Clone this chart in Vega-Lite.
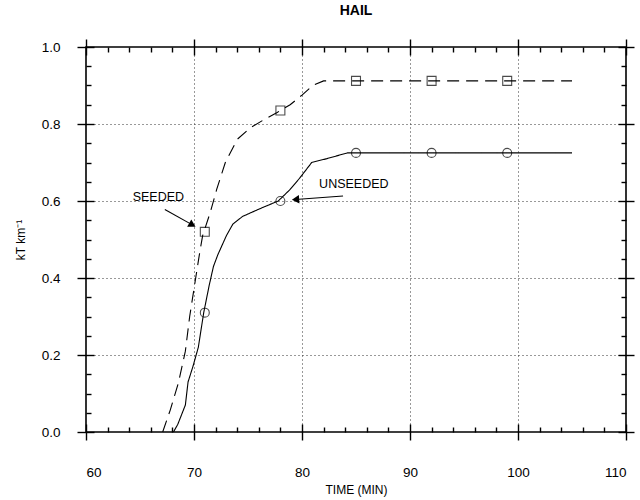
{
  "$schema": "https://vega.github.io/schema/vega-lite/v6.json",
  "autosize": "none",
  "width": 540,
  "height": 385,
  "padding": {"left": 86, "top": 47, "right": 14, "bottom": 68},
  "background": "white",
  "title": {"text": "HAIL", "font": "Liberation Sans", "fontSize": 14, "fontWeight": "bold", "offset": 20, "color": "black"},
  "config": {
    "view": {"stroke": "black", "strokeWidth": 1.6},
    "font": "Liberation Sans",
    "axis": {"tickColor": "black", "tickWidth": 1.4, "domain": false, "grid": false, "labels": false, "title": null}
  },
  "datasets": {
    "curves": [
      {"series": "Seeded", "time": 67.1, "value": 0.0},
      {"series": "Seeded", "time": 67.8, "value": 0.057},
      {"series": "Seeded", "time": 68.55, "value": 0.127},
      {"series": "Seeded", "time": 69.2, "value": 0.21},
      {"series": "Seeded", "time": 69.6, "value": 0.30},
      {"series": "Seeded", "time": 70.1, "value": 0.39},
      {"series": "Seeded", "time": 70.55, "value": 0.47},
      {"series": "Seeded", "time": 70.8, "value": 0.51},
      {"series": "Seeded", "time": 71.5, "value": 0.57},
      {"series": "Seeded", "time": 72.1, "value": 0.63},
      {"series": "Seeded", "time": 72.9, "value": 0.70},
      {"series": "Seeded", "time": 74.0, "value": 0.76},
      {"series": "Seeded", "time": 75.2, "value": 0.79},
      {"series": "Seeded", "time": 76.4, "value": 0.81},
      {"series": "Seeded", "time": 77.7, "value": 0.83},
      {"series": "Seeded", "time": 78.9, "value": 0.85},
      {"series": "Seeded", "time": 80.0, "value": 0.875},
      {"series": "Seeded", "time": 81.0, "value": 0.90},
      {"series": "Seeded", "time": 82.0, "value": 0.912},
      {"series": "Seeded", "time": 85.0, "value": 0.912},
      {"series": "Seeded", "time": 105.0, "value": 0.912},
      {"series": "Unseeded", "time": 68.1, "value": 0.0},
      {"series": "Unseeded", "time": 68.5, "value": 0.02},
      {"series": "Unseeded", "time": 69.2, "value": 0.07},
      {"series": "Unseeded", "time": 69.45, "value": 0.13},
      {"series": "Unseeded", "time": 69.9, "value": 0.17},
      {"series": "Unseeded", "time": 70.4, "value": 0.22},
      {"series": "Unseeded", "time": 70.9, "value": 0.31},
      {"series": "Unseeded", "time": 71.4, "value": 0.38},
      {"series": "Unseeded", "time": 71.8, "value": 0.43},
      {"series": "Unseeded", "time": 72.2, "value": 0.46},
      {"series": "Unseeded", "time": 73.0, "value": 0.51},
      {"series": "Unseeded", "time": 73.6, "value": 0.54},
      {"series": "Unseeded", "time": 74.5, "value": 0.56},
      {"series": "Unseeded", "time": 76.1, "value": 0.58},
      {"series": "Unseeded", "time": 77.8, "value": 0.60},
      {"series": "Unseeded", "time": 78.9, "value": 0.63},
      {"series": "Unseeded", "time": 79.8, "value": 0.66},
      {"series": "Unseeded", "time": 80.9, "value": 0.70},
      {"series": "Unseeded", "time": 82.3, "value": 0.71},
      {"series": "Unseeded", "time": 84.2, "value": 0.725},
      {"series": "Unseeded", "time": 85.0, "value": 0.725},
      {"series": "Unseeded", "time": 105.0, "value": 0.725}
    ],
    "markers": [
      {"series": "Seeded", "time": 71, "value": 0.52},
      {"series": "Seeded", "time": 78, "value": 0.835},
      {"series": "Seeded", "time": 85, "value": 0.912},
      {"series": "Seeded", "time": 92, "value": 0.912},
      {"series": "Seeded", "time": 99, "value": 0.912},
      {"series": "Unseeded", "time": 71, "value": 0.31},
      {"series": "Unseeded", "time": 78, "value": 0.60},
      {"series": "Unseeded", "time": 85, "value": 0.725},
      {"series": "Unseeded", "time": 92, "value": 0.725},
      {"series": "Unseeded", "time": 99, "value": 0.725}
    ],
    "labels": [
      {"label": "SEEDED", "time": 66.7, "value": 0.61},
      {"label": "UNSEEDED", "time": 84.8, "value": 0.644}
    ],
    "arrows": [
      {"series": "Seeded", "time": 67.3, "value": 0.578, "time2": 69.85, "value2": 0.538},
      {"series": "Unseeded", "time": 83.8, "value": 0.613, "time2": 79.4, "value2": 0.604}
    ]
  },
  "resolve": {"axis": {"x": "independent", "y": "independent"}},
  "layer": [
    {
      "data": {"name": "curves"},
      "mark": {"type": "line", "color": "black", "strokeWidth": 1.1},
      "encoding": {
        "x": {
          "field": "time", "type": "quantitative",
          "scale": {"domain": [60, 110], "nice": false, "zero": false},
          "axis": {
            "orient": "bottom",
            "values": [60, 70, 80, 90, 100, 110],
            "offset": -8, "tickSize": 16,
            "labels": true, "format": "d",
            "labelFont": "Liberation Sans", "labelFontSize": 13.5, "labelColor": "black",
            "labelPadding": 25,
            "title": "TIME (MIN)", "titleFont": "Liberation Sans", "titleFontSize": 12, "titleFontWeight": "normal", "titleColor": "black", "titlePadding": 6
          }
        },
        "y": {
          "field": "value", "type": "quantitative",
          "scale": {"domain": [0, 1], "nice": false},
          "axis": {
            "orient": "left",
            "values": [0, 0.2, 0.4, 0.6, 0.8, 1.0],
            "offset": -8, "tickSize": 17,
            "labels": true, "format": ".1f",
            "labelFont": "Liberation Sans", "labelFontSize": 13.5, "labelColor": "black",
            "labelPadding": 17,
            "title": "kT km⁻¹", "titleFont": "Liberation Sans", "titleFontSize": 12, "titleFontWeight": "normal", "titleColor": "black", "titlePadding": 14
          }
        },
        "detail": {"field": "series", "type": "nominal"},
        "strokeDash": {
          "field": "series", "type": "nominal",
          "scale": {"domain": ["Seeded", "Unseeded"], "range": [[12, 7], [1, 0]]},
          "legend": null
        }
      }
    },
    {
      "data": {"name": "markers"},
      "mark": {"type": "point", "filled": false, "color": "black", "strokeWidth": 1.1, "size": 80},
      "encoding": {
        "x": {
          "field": "time", "type": "quantitative",
          "axis": {"orient": "top", "values": [60, 70, 80, 90, 100, 110], "offset": -8, "tickSize": 16}
        },
        "y": {
          "field": "value", "type": "quantitative",
          "axis": {"orient": "right", "values": [0, 0.2, 0.4, 0.6, 0.8, 1.0], "offset": -8, "tickSize": 16}
        },
        "shape": {
          "field": "series", "type": "nominal",
          "scale": {"domain": ["Seeded", "Unseeded"], "range": ["square", "circle"]},
          "legend": null
        }
      }
    },
    {
      "data": {"name": "arrows"},
      "mark": {"type": "rule", "color": "black", "strokeWidth": 1.1},
      "encoding": {
        "x": {
          "field": "time", "type": "quantitative",
          "axis": {"orient": "bottom", "values": [62,64,66,68,72,74,76,78,82,84,86,88,92,94,96,98,102,104,106,108], "offset": -5, "tickSize": 5}
        },
        "y": {
          "field": "value", "type": "quantitative",
          "axis": {"orient": "left", "values": [0.05,0.1,0.15,0.25,0.3,0.35,0.45,0.5,0.55,0.65,0.7,0.75,0.85,0.9,0.95], "offset": -5, "tickSize": 5}
        },
        "x2": {"field": "time2"},
        "y2": {"field": "value2"}
      }
    },
    {
      "data": {"name": "arrows"},
      "transform": [{"filter": "datum.series === 'Seeded'"}],
      "mark": {"type": "point", "shape": "triangle-right", "angle": 30, "filled": true, "color": "black", "size": 70, "opacity": 1},
      "encoding": {
        "x": {
          "field": "time2", "type": "quantitative",
          "axis": {"orient": "top", "values": [62,64,66,68,72,74,76,78,82,84,86,88,92,94,96,98,102,104,106,108], "offset": -5, "tickSize": 5}
        },
        "y": {
          "field": "value2", "type": "quantitative",
          "axis": {"orient": "right", "values": [0.05,0.1,0.15,0.25,0.3,0.35,0.45,0.5,0.55,0.65,0.7,0.75,0.85,0.9,0.95], "offset": -5, "tickSize": 5}
        }
      }
    },
    {
      "data": {"name": "arrows"},
      "transform": [{"filter": "datum.series === 'Unseeded'"}],
      "mark": {"type": "point", "shape": "triangle-right", "angle": 176, "filled": true, "color": "black", "size": 70, "opacity": 1},
      "encoding": {
        "x": {
          "field": "time2", "type": "quantitative",
          "axis": {"orient": "bottom", "values": [70, 80, 90, 100], "ticks": false, "grid": true, "gridDash": [1, 3], "gridColor": "#333", "gridWidth": 1}
        },
        "y": {
          "field": "value2", "type": "quantitative",
          "axis": {"orient": "left", "values": [0.2, 0.4, 0.6, 0.8], "ticks": false, "grid": true, "gridDash": [1, 3], "gridColor": "#333", "gridWidth": 1}
        }
      }
    },
    {
      "data": {"name": "labels"},
      "mark": {"type": "text", "font": "Liberation Sans", "fontSize": 12.5, "color": "black", "align": "center", "baseline": "middle"},
      "encoding": {
        "x": {"field": "time", "type": "quantitative", "axis": null},
        "y": {"field": "value", "type": "quantitative", "axis": null},
        "text": {"field": "label"}
      }
    }
  ]
}
